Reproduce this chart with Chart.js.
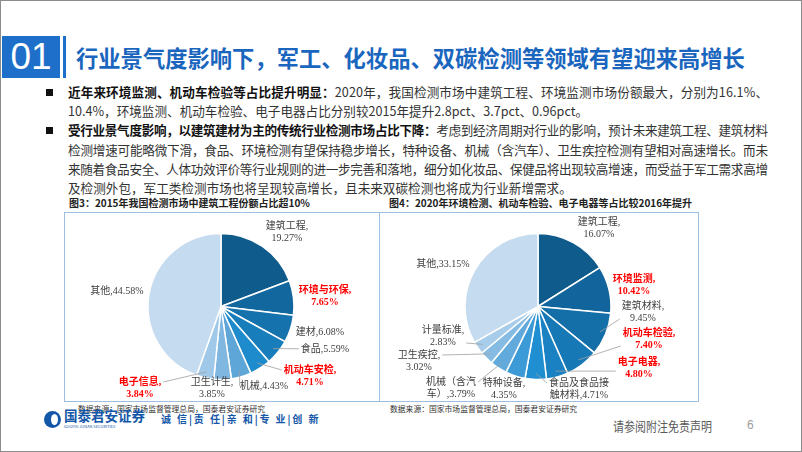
<!DOCTYPE html>
<html><head><meta charset="utf-8">
<script src="https://cdn.jsdelivr.net/npm/chart.js@4/dist/chart.umd.min.js"></script>
<style>
html,body{margin:0;padding:0;background:#fff;}
#slide{position:relative;width:800px;height:450px;border:1px solid #8c8c8c;overflow:hidden;background:#fff;font-family:"Noto Sans CJK SC","Noto Sans",sans-serif;}
.abs{position:absolute;white-space:nowrap;}
#numbox{left:1px;top:35px;width:58px;height:42px;background:#1d6fc9;color:#fff;font-family:"Liberation Sans",Arial,sans-serif;font-size:37px;line-height:42px;text-align:center;font-weight:300;}
#vbar{left:62px;top:35px;width:3px;height:42px;background:#1d6fc9;}
#title{left:75px;top:38px;font-size:22.3px;line-height:36px;font-weight:bold;color:#1a66be;}
.bul{position:absolute;left:45px;width:7px;height:7px;background:#111;}
.ln{position:absolute;left:67px;font-size:12.6px;line-height:19px;color:#333;white-space:nowrap;}
.ln b{color:#111;}
.ctitle{position:absolute;top:194px;font-size:10px;font-weight:bold;color:#222;line-height:15px;white-space:nowrap;}
.box{position:absolute;top:211px;height:188px;border:1px solid #9dbfe2;}
.src{position:absolute;top:402px;font-size:7.8px;color:#333;line-height:12px;white-space:nowrap;}
canvas{position:absolute;}
</style></head>
<body>
<div id="slide">
  <div class="abs" id="numbox">01</div>
  <div class="abs" id="vbar"></div>
  <div class="abs" id="title">行业景气度影响下，军工、化妆品、双碳检测等领域有望迎来高增长</div>

  <div class="bul" style="top:88px"></div>
  <div class="ln j" style="top:81px"><b>近年来环境监测、机动车检验等占比提升明显：</b>2020年，我国检测市场中建筑工程、环境监测市场份额最大，分别为16.1%、</div>
  <div class="ln" style="top:100px">10.4%，环境监测、机动车检验、电子电器占比分别较2015年提升2.8pct、3.7pct、0.96pct。</div>
  <div class="bul" style="top:126px"></div>
  <div class="ln j" style="top:119px"><b>受行业景气度影响，以建筑建材为主的传统行业检测市场占比下降：</b>考虑到经济周期对行业的影响，预计未来建筑工程、建筑材料</div>
  <div class="ln j" style="top:139px">检测增速可能略微下滑，食品、环境检测有望保持稳步增长，特种设备、机械（含汽车）、卫生疾控检测有望相对高速增长。而未</div>
  <div class="ln j" style="top:158px">来随着食品安全、人体功效评价等行业规则的进一步完善和落地，细分如化妆品、保健品将出现较高增速，而受益于军工需求高增</div>
  <div class="ln" style="top:177px">及检测外包，军工类检测市场也将呈现较高增长，且未来双碳检测也将成为行业新增需求。</div>

  <div class="ctitle" style="left:68px">图3：2015年我国检测市场中建筑工程份额占比超10%</div>
  <div class="ctitle" style="left:388px">图4：2020年环境检测、机动车检验、电子电器等占比较2016年提升</div>
  <div class="box" style="left:63px;width:314px;"></div>
  <div class="box" style="left:378px;width:318px;"></div>
  <canvas id="c1" width="314" height="189" style="left:63px;top:211px;"></canvas>
  <canvas id="c2" width="318" height="189" style="left:378px;top:211px;"></canvas>

  <div class="src" style="left:77px">数据来源：国家市场监督管理总局，国泰君安证券研究</div>
  <div class="src" style="left:389px">数据来源：国家市场监督管理总局，国泰君安证券研究</div>

  <div class="abs" style="left:43px;top:410px;width:17px;height:17px;border-radius:50%;background:#1457a8;"></div>
  <div class="abs" style="left:50px;top:413px;width:7px;height:11px;border-radius:50%;background:#fff;"></div>
  <div class="abs" style="left:63px;top:406px;font-size:13.5px;font-weight:bold;color:#1457a8;line-height:17px;">国泰君安证券</div>
  <div class="abs" style="left:63px;top:423px;font-size:4px;color:#1457a8;line-height:5px;">GUOTAI JUNAN SECURITIES</div>
  <div class="abs" style="left:160px;top:410px;font-size:10px;font-weight:bold;color:#1457a8;line-height:16px;letter-spacing:1.9px;">诚 信|责 任|亲 和|专 业|创 新</div>
  <div class="abs" style="left:612px;top:416px;font-size:11px;color:#595959;line-height:16px;transform:scaleY(1.15);">请参阅附注免责声明</div>
  <div class="abs" style="left:746px;top:416px;font-size:12px;color:#9a9a9a;line-height:16px;font-family:'Liberation Sans',sans-serif;">6</div>
</div>
<script>
// justify full-width text lines to 700px via letter-spacing
document.querySelectorAll('.ln.j').forEach(el => {
  const n = el.textContent.length;
  const nat = el.getBoundingClientRect().width;
  el.style.letterSpacing = ((700 - nat) / (n - 1)) + 'px';
});

// ---- data ----
const cats2015 = ['建筑工程','环境与环保','建材','食品','机动车安检','机械','卫生计生','电子信息','其他'];
const vals2015 = [19.27, 7.65, 6.08, 5.59, 4.71, 4.43, 3.85, 3.84, 44.58];
const red2015  = [false, true, false, false, true, false, false, true, false];

const cats2020 = ['建筑工程','环境监测','建筑材料','机动车检验','电子电器','食品及食品接触材料','特种设备','机械（含汽车）','卫生疾控','计量标准','其他'];
const vals2020 = [16.07, 10.42, 9.45, 7.40, 4.80, 4.71, 4.35, 3.79, 3.02, 2.83, 33.15];
const red2020  = [false, true, false, true, true, false, false, false, false, false, false];

// ---- styles / layout ----
const colors2015 = ['#0f5b8b','#12679f','#1572ad','#187dbb','#1e8ccc','#5ea5d8','#80b7e1','#9fc8e9','#c4dbf0'];
const colors2020 = ['#0f5b8b','#12659c','#146fa9','#1678b5','#1a82c3','#1f8fd1','#3c9ad6','#62aadc','#86bce4','#a8cdeb','#c5dbf0'];
// label line break: -1 = one line "name,val", 0 = "name," / "val", n = split combined text after n chars
const brk2015 = [0,0,-1,-1,0,-1,0,0,-1];
const brk2020 = [0,0,0,0,0,6,0,5,0,0,-1];
// label centre offsets from pie centre
const pos2015 = [[66,-74],[104,-10],[99,26],[104,43],[89,70],[43,80],[-9,82],[-81,82],[-104,-15]];
const pos2020 = [[61,-78],[96,-21],[105,6],[111,33],[101,62],[41,83],[-34,83],[-87,82],[-119,55],[-95,30],[-95,-42]];
const lead2015 = [0,0,0,1,1,1,0,1,0];
const lead2020 = [0,0,1,1,1,1,0,1,1,1,0];

const labelPlugin = {
  id: 'sliceLabels',
  afterDatasetsDraw(chart) {
    const o = chart.options.plugins.sliceLabels;
    const ctx = chart.ctx;
    const meta = chart.getDatasetMeta(0);
    const vals = chart.data.datasets[0].data;
    const cats = chart.data.labels;
    meta.data.forEach((arc, i) => {
      const p = arc.getProps(['x','y','startAngle','endAngle','outerRadius'], true);
      const mid = (p.startAngle + p.endAngle) / 2;
      const valTxt = vals[i].toFixed(2) + '%';
      let lines;
      const full = cats[i] + ',' + valTxt;
      if (o.brk[i] === -1) lines = [full];
      else if (o.brk[i] === 0) lines = [cats[i] + ',', valTxt];
      else lines = [full.slice(0, o.brk[i]), full.slice(o.brk[i])];
      const isRed = o.red[i];
      ctx.save();
      ctx.font = (isRed ? 'bold ' : '') + '10px "Liberation Serif","Noto Sans CJK SC",serif';
      const lh = 11.5;
      const cx = p.x + o.pos[i][0], cy = p.y + o.pos[i][1];
      const w = Math.max(...lines.map(t => ctx.measureText(t).width));
      const h = lines.length * lh;
      if (o.lead[i]) {
        const sx = p.x + Math.cos(mid) * (p.outerRadius - 6);
        const sy = p.y + Math.sin(mid) * (p.outerRadius - 6);
        const bx0 = cx - w/2 - 2, bx1 = cx + w/2 + 2, by0 = cy - h/2, by1 = cy + h/2;
        const ex = Math.min(Math.max(sx, bx0), bx1);
        const ey = Math.min(Math.max(sy, by0 + 5), by1 - 5);
        ctx.strokeStyle = '#a0a0a0';
        ctx.lineWidth = 0.8;
        ctx.beginPath(); ctx.moveTo(sx, sy); ctx.lineTo(ex, ey); ctx.stroke();
      }
      ctx.fillStyle = isRed ? '#ff0000' : '#404040';
      ctx.textAlign = 'center';
      ctx.textBaseline = 'middle';
      lines.forEach((t, k) => {
        ctx.fillText(t, cx, cy - h/2 + lh/2 + k*lh);
      });
      ctx.restore();
    });
  }
};

function makePie(id, cats, vals, colors, red, brk, pos, lead) {
  new Chart(document.getElementById(id), {
    type: 'pie',
    data: { labels: cats, datasets: [{ data: vals, backgroundColor: colors, borderColor: '#ffffff', borderWidth: 1.5, radius: 73 }] },
    options: {
      responsive: false, animation: false,
      layout: { padding: 0 },
      plugins: { legend: { display: false }, tooltip: { enabled: false },
        sliceLabels: { red, brk, pos, lead } }
    },
    plugins: [labelPlugin]
  });
}
makePie('c1', cats2015, vals2015, colors2015, red2015, brk2015, pos2015, lead2015);
makePie('c2', cats2020, vals2020, colors2020, red2020, brk2020, pos2020, lead2020);
</script>
</body></html>
